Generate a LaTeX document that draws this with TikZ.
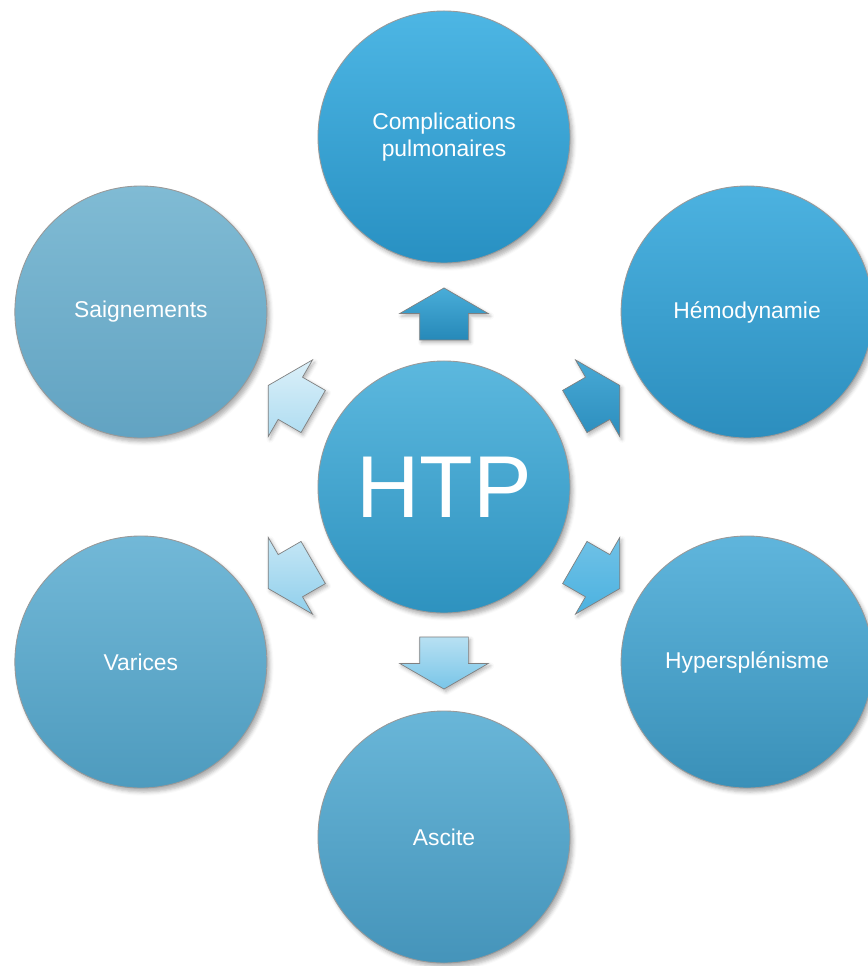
\documentclass[tikz,border=0pt]{standalone}
\usepackage{fontspec}
\setmainfont{Liberation Sans}
\usetikzlibrary{shapes.arrows,shadows.blur}
\definecolor{c0t}{HTML}{5CB8DE}\definecolor{c0b}{HTML}{2E92BF}
\definecolor{c1t}{HTML}{4DB6E4}\definecolor{c1b}{HTML}{2890C2}
\definecolor{c2t}{HTML}{4CB2E0}\definecolor{c2b}{HTML}{2C8EBE}
\definecolor{c3t}{HTML}{5FB5DC}\definecolor{c3b}{HTML}{3A90B8}
\definecolor{c4t}{HTML}{69B6D8}\definecolor{c4b}{HTML}{4594BA}
\definecolor{c5t}{HTML}{72B8D7}\definecolor{c5b}{HTML}{4E9BBE}
\definecolor{c6t}{HTML}{80BBD4}\definecolor{c6b}{HTML}{62A3C2}
\tikzstyle{bubble} = [circle,
                     minimum size=5.04cm,
                     inner sep=0pt,
                     align=center,
                     text=white,
                     font=\fontsize{13}{15}\selectfont,
                     draw=black!40,
                     line width=0.5pt,
                     blur shadow={shadow xshift=0.06cm, shadow yshift=-0.08cm, shadow opacity=30}]
\tikzstyle{pointer} = [single arrow,
                      minimum height=1.04cm,
                      minimum width=1.76cm,
                      single arrow head extend=0.4cm,
                      single arrow tip angle=120,
                      inner xsep=0pt,
                      inner ysep=0.48cm,
                      draw=black!50,
                      line width=0.4pt,
                      blur shadow={shadow xshift=0.04cm, shadow yshift=-0.05cm, shadow opacity=30}]

\begin{document}
\begin{tikzpicture}
    \useasboundingbox (-8.88,9.74) rectangle (8.46,-9.58);
    \node (0) at (0,0) [bubble, top color=c0t, bottom color=c0b, font=\fontsize{50}{54}\selectfont] {HTP};
    \node (1) at (90:7cm) [bubble, top color=c1t, bottom color=c1b] {Complications\\pulmonaires};
    \node (2) at (30:7cm) [bubble, top color=c2t, bottom color=c2b] {Hémodynamie};
    \node (3) at (-30:7cm) [bubble, top color=c3t, bottom color=c3b] {Hypersplénisme};
    \node (4) at (-90:7cm) [bubble, top color=c4t, bottom color=c4b] {Ascite};
    \node (5) at (210:7cm) [bubble, top color=c5t, bottom color=c5b] {Varices};
    \node (6) at (150:7cm) [bubble, top color=c6t, bottom color=c6b] {Saignements};
    % block arrows pointing out of HTP
    \node (a1) at (90:3.32cm) [pointer, rotate=90, top color=c1t!95!black, bottom color=c1b!95!black] {};
    \node (a2) at (30:3.4cm) [pointer, rotate=30, top color=c2t!95!black, bottom color=c2b] {};
    \node (a3) at (-30:3.4cm) [pointer, rotate=-30, top color=c2t!80!white, bottom color=c2t] {};
    \node (a4) at (-90:3.38cm) [pointer, rotate=-90, top color=c2t!40!white, bottom color=c2t!75!white] {};
    \node (a5) at (210:3.4cm) [pointer, rotate=210, top color=c2t!32!white, bottom color=c2t!62!white] {};
    \node (a6) at (150:3.4cm) [pointer, rotate=150, top color=c2t!20!white, bottom color=c2t!45!white] {};
\end{tikzpicture}
\end{document}
